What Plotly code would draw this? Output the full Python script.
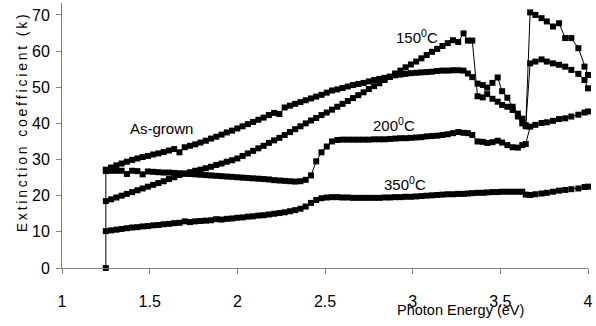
import plotly.graph_objects as go

# Shared photon-energy grid (eV); first entry carries the zero point of the as-grown trace
energy = [1.25,
          1.25, 1.28, 1.31, 1.34, 1.37, 1.40, 1.43, 1.46, 1.49, 1.52,
          1.55, 1.58, 1.61, 1.64, 1.67, 1.70, 1.73, 1.76, 1.79, 1.82,
          1.85, 1.88, 1.91, 1.94, 1.97, 2.00, 2.03, 2.06, 2.09, 2.12,
          2.15, 2.18, 2.21, 2.24, 2.27, 2.30, 2.33, 2.36, 2.39, 2.42,
          2.45, 2.48, 2.51, 2.54, 2.57, 2.60, 2.63, 2.66, 2.69, 2.72,
          2.75, 2.78, 2.81, 2.84, 2.87, 2.90, 2.93, 2.96, 2.99, 3.02,
          3.05, 3.08, 3.11, 3.14, 3.17, 3.20, 3.23,
          3.26, 3.29, 3.315, 3.34, 3.37, 3.40, 3.425, 3.455, 3.485, 3.51,
          3.54, 3.57, 3.60, 3.625, 3.645, 3.67, 3.70, 3.735, 3.765, 3.80,
          3.835, 3.87, 3.905, 3.945, 3.98, 4.0]

k_as_grown = [0.0,
              27.2, 27.8, 28.4, 28.9, 29.4, 29.9, 30.3, 30.7, 31.0, 31.4,
              31.7, 32.1, 32.5, 32.9, 32.0, 33.4, 33.8, 34.2, 34.7, 35.2,
              35.8, 36.3, 36.9, 37.5, 38.0, 38.6, 39.2, 39.8, 40.4, 41.0,
              41.6, 42.3, 42.9, 42.6, 44.4, 44.9, 45.4, 45.9, 46.4, 46.9,
              47.4, 47.9, 48.5, 49.1, 49.4, 49.8, 50.2, 50.6, 50.9, 51.2,
              51.6, 52.0, 52.3, 52.6, 52.9, 53.3, 53.5, 53.7, 53.9, 54.0,
              54.1, 54.2, 54.3, 54.5, 54.6, 54.6, 54.7,
              54.7, 54.6, 53.8, 52.8, 51.0, 50.6, 49.9, 51.2, 52.7, 48.9,
              47.1, 44.6, 42.7, 41.3, 39.5, 56.6, 57.1, 57.7, 57.1, 56.6,
              56.2, 55.7, 54.8, 53.7, 52.0, 49.7]

k_150 = [None,
         18.5, 19.0, 19.5, 20.0, 20.5, 21.0, 21.5, 22.0, 22.5, 23.0,
         23.5, 24.0, 24.6, 25.1, 25.7, 26.1, 26.5, 26.9, 27.2, 27.6,
         28.0, 28.5, 28.9, 29.4, 29.8, 30.3, 31.0, 31.7, 32.4, 33.1,
         33.8, 34.6, 35.3, 36.0, 36.8, 37.6, 38.4, 39.2, 40.0, 40.8,
         41.5, 42.3, 43.0, 43.8, 44.6, 45.4, 46.2, 47.0, 47.8, 48.6,
         49.5, 50.3, 51.1, 52.0, 52.9, 53.8, 54.6, 55.5, 56.3, 57.1,
         58.0, 58.9, 59.8, 60.6, 61.4, 62.2, 63.0,
         62.5, 64.9, 62.9, 62.9, 47.5, 47.2, 48.1, 46.8, 46.0, 45.1,
         44.6, 43.7, 41.9, 40.0, 39.2, 70.7, 70.0, 69.1, 68.2, 66.8,
         67.7, 63.6, 63.6, 60.8, 55.7, 53.4]

k_200 = [None,
         26.8, 26.9, 26.9, 26.9, 26.0, 26.9, 26.8, 25.9, 26.7, 26.6,
         26.5, 26.4, 26.4, 26.3, 26.2, 26.1, 26.0, 25.9, 25.8, 25.7,
         25.6, 25.5, 25.4, 25.3, 25.2, 25.1, 25.0, 24.9, 24.8, 24.7,
         24.6, 24.5, 24.3, 24.2, 24.1, 24.0, 23.9, 24.0, 24.4, 25.6,
         29.5, 32.0, 33.6, 35.0, 35.4, 35.5, 35.5, 35.5, 35.5, 35.5,
         35.5, 35.6, 35.6, 35.6, 35.7, 35.8, 35.9, 35.9, 36.0, 36.1,
         36.2, 36.4, 36.5, 36.6, 36.8, 37.0, 37.3,
         37.6, 37.4, 37.3, 36.8, 35.0, 34.9, 34.6, 34.8, 35.2, 34.7,
         34.0, 33.4, 33.3, 34.0, 34.3, 39.1, 39.6, 40.1, 40.3, 40.7,
         41.2, 41.4, 41.9, 42.4, 43.0, 43.3]

k_350 = [None,
         10.2, 10.4, 10.6, 10.8, 11.0, 11.2, 11.3, 11.5, 11.6, 11.8,
         11.9, 12.1, 12.2, 12.4, 12.5, 12.9, 12.7, 12.9, 13.0, 13.1,
         13.2, 13.5, 13.4, 13.6, 13.7, 13.9, 14.0, 14.2, 14.3, 14.5,
         14.6, 14.8, 15.0, 15.2, 15.4, 15.7, 16.0, 16.4, 17.0, 18.0,
         18.8, 19.3, 19.5, 19.6, 19.6, 19.5, 19.5, 19.4, 19.4, 19.4,
         19.4, 19.4, 19.4, 19.5, 19.5, 19.6, 19.6, 19.7, 19.7, 19.8,
         19.9, 20.0, 20.1, 20.2, 20.3, 20.4, 20.4,
         20.5, 20.5, 20.6, 20.7, 20.8, 20.8, 20.9, 21.0, 21.0, 21.1,
         21.1, 21.1, 21.1, 21.1, 20.3, 20.2, 20.4, 20.6, 20.8, 21.1,
         21.4, 21.6, 21.8, 22.0, 22.4, 22.5]

x_ticks = [1, 1.5, 2, 2.5, 3, 3.5, 4]
x_tick_labels = ["1", "1.5", "2", "2.5", "3", "3.5", "4"]
y_ticks = [0, 10, 20, 30, 40, 50, 60, 70]

series_names = ["As-grown", "150<sup>0</sup>C", "200<sup>0</sup>C", "350<sup>0</sup>C"]
series_values = [k_as_grown, k_150, k_200, k_350]
label_x = [1.567, 3.024, 2.893, 2.956]
label_y = [38.5, 63.9, 39.8, 23.5]

FONT = "Liberation Sans Narrow, Arial Narrow, Liberation Sans, Arial, sans-serif"
AXIS_COLOR = "#808080"

fig = go.Figure()
for name, vals in zip(series_names, series_values):
    fig.add_trace(go.Scatter(
        x=energy, y=vals, mode="lines+markers", name=name,
        line=dict(color="black", width=1),
        marker=dict(symbol="square", size=6, color="black"),
        cliponaxis=False, showlegend=False,
    ))

for name, lx, ly in zip(series_names, label_x, label_y):
    fig.add_annotation(x=lx, y=ly, xref="x", yref="y", text=name, showarrow=False,
                       font=dict(family=FONT, size=15, color="black"))

ytitle = "\u2009".join(list("Extinction coefficient (k)"))
fig.add_annotation(x=-0.0756, y=0.547, xref="paper", yref="paper", text=ytitle,
                   textangle=-90, showarrow=False, xanchor="center", yanchor="middle",
                   font=dict(family=FONT, size=14, color="black"))
fig.add_annotation(x=0.758, y=-0.158, xref="paper", yref="paper", text="Photon Energy (eV)",
                   showarrow=False, xanchor="center", yanchor="middle",
                   font=dict(family=FONT, size=14.5, color="black"))

fig.update_layout(
    width=596, height=326,
    margin=dict(l=62, r=5, t=3, b=58),
    paper_bgcolor="white", plot_bgcolor="white",
    font=dict(family=FONT, size=16, color="black"),
    xaxis=dict(range=[1, 4], tickmode="array", tickvals=x_ticks, ticktext=x_tick_labels,
               showline=True, linecolor=AXIS_COLOR, linewidth=1,
               ticks="outside", ticklen=5, tickcolor=AXIS_COLOR,
               showgrid=False, zeroline=False, ticklabelstandoff=14,
               tickfont=dict(family=FONT, size=16, color="black")),
    yaxis=dict(range=[0, 73.3], tickmode="array", tickvals=y_ticks,
               showline=True, linecolor=AXIS_COLOR, linewidth=1,
               ticks="outside", ticklen=5, tickcolor=AXIS_COLOR,
               showgrid=False, zeroline=False, ticklabelstandoff=3,
               tickfont=dict(family=FONT, size=16, color="black")),
)

fig.write_html("out.html")
